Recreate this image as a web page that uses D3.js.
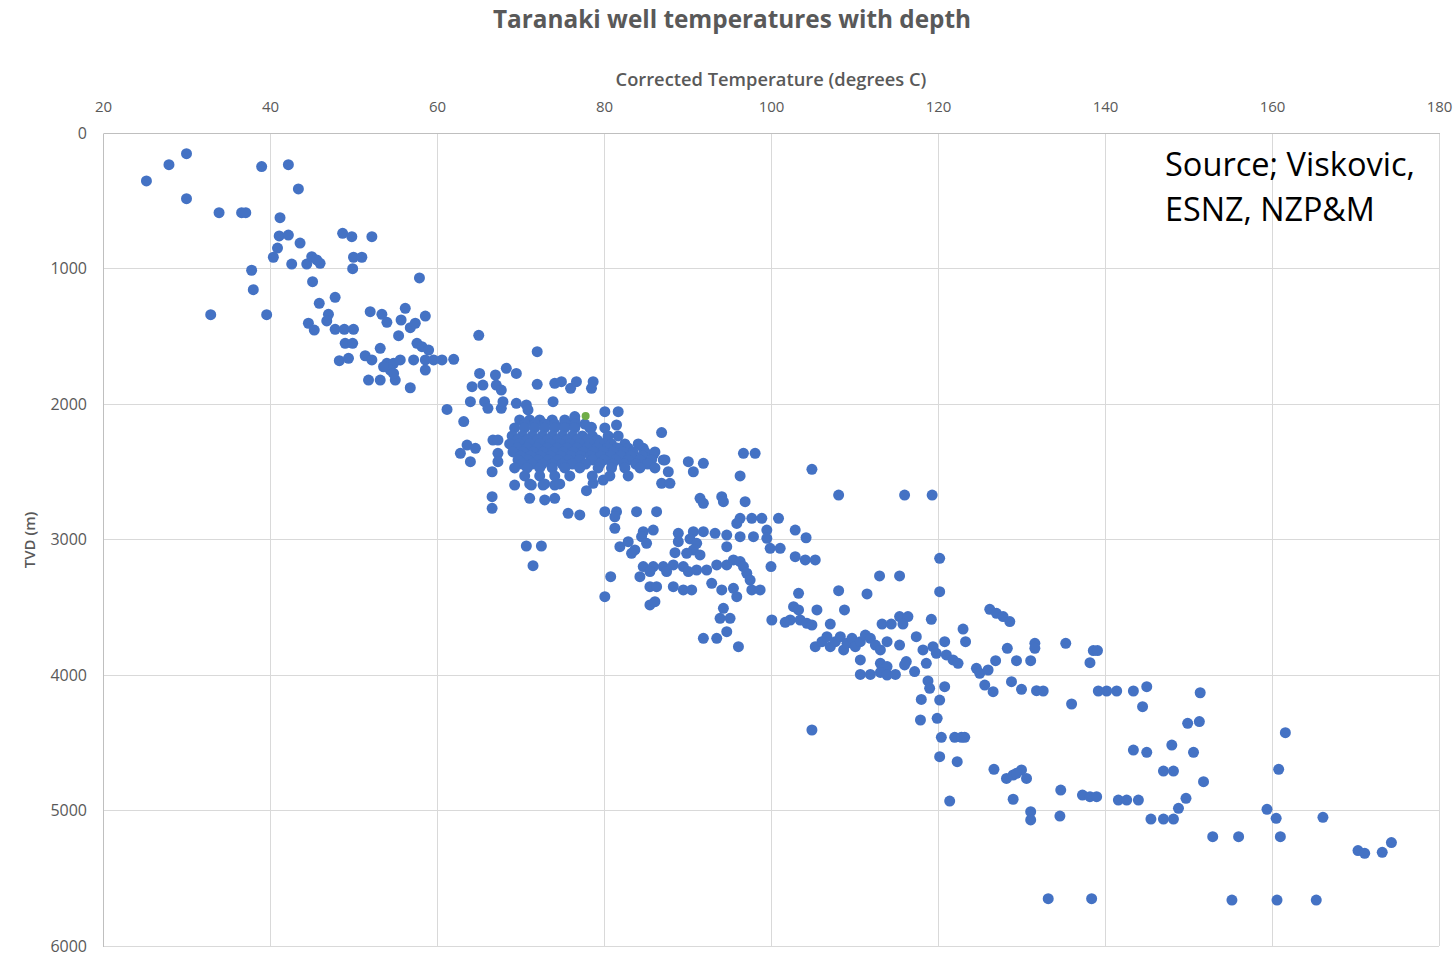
<!DOCTYPE html>
<html>
<head>
<meta charset="utf-8">
<script src="https://cdn.jsdelivr.net/npm/d3@7"></script>
<style>
  html, body { margin: 0; padding: 0; background: #fff; }
  svg { display: block; }
</style>
</head>
<body>
<svg id="chart" width="1455" height="954"></svg>
<script>
// ---- data ----
const chartTitle = "Taranaki well temperatures with depth";
const xAxisTitle = "Corrected Temperature (degrees C)";
const yAxisTitle = "TVD (m)";
const sourceLines = ["Source; Viskovic,", "ESNZ, NZP&M"];
const xTicks = [20, 40, 60, 80, 100, 120, 140, 160, 180];
const yTicks = [0, 1000, 2000, 3000, 4000, 5000, 6000];

// Corrected temperature (deg C) of each well reading
const temperature = [
  25.2,27.9,30.0,30.0,39.0,42.2,43.4,33.9,36.6,37.1,41.2,41.1,42.2,43.6,40.9,40.4,42.6,44.4,45.0,46.0,
  45.6,48.7,49.8,52.2,50.0,51.0,49.9,37.8,38.0,32.9,39.6,45.1,57.9,47.8,45.9,47.0,46.8,44.6,45.3,47.8,
  48.9,50.0,49.0,49.9,48.3,49.4,52.0,53.4,54.0,56.2,55.7,58.6,56.8,57.4,55.4,53.2,51.4,52.2,51.8,53.2,
  55.0,56.8,54.0,54.8,55.6,54.4,57.6,58.2,59.0,57.2,58.6,59.6,60.6,62.0,58.6,53.6,54.8,61.2,
  65.0,72.0,65.1,67.0,68.3,69.5,64.2,65.5,67.1,67.7,72.0,74.1,74.9,76.0,76.7,78.5,78.7,64.0,65.7,66.1,
  67.7,67.9,69.5,70.7,70.9,73.9,63.2,80.1,81.7,81.5,76.5,78.5,86.9,63.6,64.6,62.8,64.0,66.7,67.3,67.3,
  67.3,66.6,69.3,71.1,72.9,74.1,66.6,66.6,71.3,72.7,74.1,77.9,78.7,79.9,86.9,87.9,84.7,85.9,84.7,87.1,
  87.7,75.7,77.1,80.1,81.5,83.9,86.3,
  96.7,98.1,90.1,91.9,90.7,96.3,104.9,91.5,91.9,94.1,94.3,96.9,81.3,100.9,96.3,97.7,98.9,95.9,102.9,104.2,
  81.3,84.7,85.9,84.5,85.1,81.9,82.9,83.7,83.3,88.9,88.9,88.5,90.7,91.9,93.3,94.7,96.3,97.9,99.5,99.5,
  90.3,91.1,90.7,91.5,89.9,94.7,99.9,101.1,102.9,104.1,105.3,100.0,84.7,85.9,84.3,85.5,87.1,87.5,88.3,89.5,
  90.1,91.1,92.3,93.5,94.7,95.5,96.3,96.7,97.1,97.5,80.8,85.5,86.3,88.3,89.5,90.5,92.9,94.1,95.5,95.9,
  97.7,98.7,80.1,85.5,86.1,103.3,94.3,93.9,95.1,102.7,103.3,100.1,102.3,103.5,104.3,105.5,91.9,93.5,94.7,96.1,
  108.1,116.0,119.3,120.2,113.0,115.4,108.1,111.5,120.2,108.8,101.7,104.9,107.1,113.3,114.4,115.4,116.4,115.8,119.2,123.0,
  123.3,126.2,127.0,127.8,128.6,117.4,131.6,131.6,128.3,129.4,131.1,126.9,124.6,125.0,126.0,128.8,125.6,126.6,130.0,131.8,
  105.3,106.1,106.7,107.1,107.7,108.3,108.7,109.1,109.7,110.1,110.7,111.3,111.9,112.5,113.1,113.9,110.7,113.1,113.9,115.4,
  116.2,117.2,118.2,118.6,119.4,119.8,120.8,121.0,121.8,122.4,110.7,111.9,113.1,113.9,114.9,118.8,119.0,120.8,118.0,120.2,
  116.0,135.3,138.2,138.6,139.1,132.6,136.0,139.2,140.2,141.4,143.4,145.0,144.5,151.4,117.9,119.9,120.4,122.0,122.8,123.2,
  120.2,122.3,126.7,128.2,129.0,130.0,130.6,129.4,121.4,129.0,131.1,131.1,134.6,134.7,137.3,138.2,139.0,141.6,142.6,144.0,
  145.5,147.0,148.2,148.8,149.7,143.4,145.0,148.0,147.0,148.2,149.9,151.3,150.6,151.8,
  104.9,133.2,138.4,
  161.6,160.8,159.4,160.5,166.1,152.9,156.0,161.0,170.3,171.1,173.2,174.3,155.2,160.6,165.3,
  70.7,72.5,71.5,
  // dense cluster around 70-88 C, 2100-2600 m
  69.9,71.1,72.3,73.8,75.3,76.5,
  70.5,71.7,72.9,74.1,75.3,76.5,77.7,
  69.3,70.5,71.7,72.9,74.1,75.3,76.5,78.3,80.1,
  69.0,70.2,71.4,72.6,73.8,75.0,76.2,77.4,78.6,80.5,81.7,
  69.6,70.8,72.0,73.2,74.4,75.6,76.8,78.0,79.2,80.4,
  68.7,69.9,71.1,72.3,73.5,74.7,75.9,77.1,78.3,79.5,80.9,82.5,84.1,
  69.6,70.8,72.0,73.2,74.4,75.6,76.8,78.0,79.2,80.4,81.6,82.9,
  69.1,70.3,71.5,72.7,73.9,75.1,76.3,77.5,78.7,79.9,81.1,82.3,83.5,84.9,86.1,
  70.0,71.2,72.4,73.6,74.8,76.0,77.2,78.4,79.6,80.8,82.0,83.2,84.6,
  69.7,70.9,72.1,73.3,74.5,75.7,77.1,78.6,80.0,81.4,82.9,84.3,85.7,87.3,
  70.2,71.4,72.6,73.8,75.0,76.2,77.8,79.5,81.0,82.4,83.8,85.2,
  69.3,70.8,72.3,73.8,75.3,77.1,79.3,80.9,82.5,84.3,86.1,
  70.5,72.3,74.1,75.9,78.6,80.7,82.9,
  71.1,72.9,74.7
];

// True vertical depth (m) of each reading, same order as temperature
const depth = [
  354,234,153,485,248,234,413,588,588,588,625,760,753,812,849,917,967,967,913,962,
  937,740,765,765,917,917,1001,1013,1156,1341,1341,1097,1070,1213,1257,1338,1387,1404,1454,1449,
  1449,1449,1552,1552,1680,1663,1319,1338,1397,1294,1380,1351,1437,1404,1496,1589,1644,1675,1823,1823,
  1823,1880,1700,1700,1675,1749,1552,1577,1602,1675,1675,1675,1675,1670,1749,1725,1774,2040,
  1493,1614,1774,1786,1737,1774,1872,1860,1860,1897,1855,1847,1835,1884,1835,1884,1835,1983,1983,2032,
  2032,1983,1995,2007,2044,1983,2130,2057,2057,2155,2093,2172,2211,2303,2327,2364,2426,2266,2266,2364,
  2426,2500,2598,2696,2708,2696,2684,2770,2598,2598,2598,2640,2585,2561,2585,2585,2327,2376,2413,2413,
  2500,2807,2819,2795,2795,2795,2795,
  2364,2364,2426,2438,2500,2531,2482,2696,2733,2684,2721,2721,2832,2844,2844,2844,2844,2881,2930,2987,
  2917,2942,2930,2979,3028,3053,3016,3077,3102,2954,3016,3097,2942,2942,2954,2967,2979,2979,2930,2991,
  2996,3028,3077,3114,3102,3053,3065,3065,3127,3151,3151,3200,3200,3200,3274,3237,3200,3237,3188,3200,
  3237,3225,3225,3188,3188,3151,3163,3200,3249,3299,3274,3348,3348,3348,3372,3372,3323,3372,3360,3422,
  3372,3372,3422,3483,3459,3397,3508,3582,3582,3496,3520,3594,3594,3594,3619,3520,3729,3729,3680,3791,
  2672,2672,2672,3139,3269,3269,3378,3402,3385,3520,3611,3631,3624,3624,3624,3569,3569,3624,3589,3661,
  3754,3515,3545,3569,3606,3717,3766,3803,3803,3894,3894,3894,3951,3988,3963,4049,4074,4123,4106,4116,
  3791,3754,3717,3791,3754,3717,3815,3766,3729,3791,3754,3705,3729,3779,3815,3754,3889,3914,3938,3779,
  3901,3975,3815,3914,3791,3840,3754,3852,3889,3914,3996,3996,3981,4000,3996,4044,4098,4086,4180,4185,
  3926,3766,3909,3820,3820,4118,4214,4118,4118,4118,4118,4086,4234,4131,4332,4320,4460,4460,4460,4460,
  4603,4640,4696,4763,4738,4701,4763,4726,4930,4917,5009,5070,5041,4849,4886,4898,4898,4923,4923,4923,
  5063,5063,5063,4984,4910,4554,4571,4517,4709,4709,4357,4344,4571,4787,
  4406,5651,5651,
  4426,4696,4991,5058,5050,5193,5193,5193,5296,5316,5309,5237,5661,5661,5661,
  3048,3048,3193,
  2118,2118,2118,2118,2118,2118,
  2148,2148,2148,2148,2148,2148,2148,
  2177,2177,2177,2177,2177,2177,2177,2177,2177,
  2236,2236,2236,2236,2236,2236,2236,2236,2236,2236,2236,
  2266,2266,2266,2266,2266,2266,2266,2266,2266,2266,
  2295,2295,2295,2295,2295,2295,2295,2295,2295,2295,2295,2295,2295,
  2325,2325,2325,2325,2325,2325,2325,2325,2325,2325,2325,2325,
  2354,2354,2354,2354,2354,2354,2354,2354,2354,2354,2354,2354,2354,2354,2354,
  2384,2384,2384,2384,2384,2384,2384,2384,2384,2384,2384,2384,2384,
  2413,2413,2413,2413,2413,2413,2413,2413,2413,2413,2413,2413,2413,2413,
  2443,2443,2443,2443,2443,2443,2443,2443,2443,2443,2443,2443,
  2472,2472,2472,2472,2472,2472,2472,2472,2472,2472,2472,
  2531,2531,2531,2531,2531,2531,2531,
  2590,2590,2590
];

// single highlighted (green) reading
const highlightTemperature = [77.8];
const highlightDepth = [2089];

// ---- drawing ----
const svg = d3.select("#chart");
const plot = { left: 103, top: 133, right: 1439, bottom: 946 };

const x = d3.scaleLinear().domain([20, 180]).range([plot.left, plot.right]);
const y = d3.scaleLinear().domain([0, 6000]).range([plot.top, plot.bottom]);

const textGray = "#595959";
const gridGray = "#d9d9d9";
const fontFam = "'Open Sans', 'Liberation Sans', sans-serif";

// gridlines
svg.append("g")
  .selectAll("line")
  .data(xTicks)
  .join("line")
  .attr("x1", d => x(d)).attr("x2", d => x(d))
  .attr("y1", plot.top).attr("y2", plot.bottom)
  .attr("stroke", gridGray).attr("stroke-width", 1)
  .attr("shape-rendering", "crispEdges");

svg.append("g")
  .selectAll("line")
  .data(yTicks)
  .join("line")
  .attr("x1", plot.left).attr("x2", plot.right)
  .attr("y1", d => y(d)).attr("y2", d => y(d))
  .attr("stroke", gridGray).attr("stroke-width", 1)
  .attr("shape-rendering", "crispEdges");

// axes (top x axis, left y axis)
const xAxis = d3.axisTop(x).tickValues(xTicks).tickFormat(d3.format("d")).tickSize(0).tickPadding(21);
const gx = svg.append("g").attr("transform", `translate(0,${plot.top})`).call(xAxis);
gx.select(".domain").attr("stroke", "#bfbfbf").attr("shape-rendering", "crispEdges");
gx.selectAll("text").attr("fill", textGray).style("font-family", fontFam).style("font-size", "15px");

const yAxis = d3.axisLeft(y).tickValues(yTicks).tickFormat(d3.format("d")).tickSize(0).tickPadding(16);
const gy = svg.append("g").attr("transform", `translate(${plot.left},0)`).call(yAxis);
gy.select(".domain").attr("stroke", "#bfbfbf").attr("shape-rendering", "crispEdges");
gy.selectAll("text").attr("fill", textGray).style("font-family", fontFam).style("font-size", "16px");

// points
const pts = temperature.map((t, i) => ({ t, d: depth[i] }));
svg.append("g")
  .selectAll("circle")
  .data(pts)
  .join("circle")
  .attr("cx", p => x(p.t))
  .attr("cy", p => y(p.d))
  .attr("r", 5.5)
  .attr("fill", "#4472C4");

const hl = highlightTemperature.map((t, i) => ({ t, d: highlightDepth[i] }));
svg.append("g")
  .selectAll("circle")
  .data(hl)
  .join("circle")
  .attr("cx", p => x(p.t))
  .attr("cy", p => y(p.d))
  .attr("r", 4)
  .attr("fill", "#70AD47");

// fit helper
function fitWidth(sel, target) {
  const w = sel.node().getComputedTextLength();
  const fs = parseFloat(sel.style("font-size"));
  sel.style("font-size", (fs * target / w).toFixed(2) + "px");
}

// title
const title = svg.append("text")
  .attr("x", 732).attr("y", 28)
  .attr("text-anchor", "middle")
  .attr("fill", textGray)
  .style("font-family", fontFam).style("font-weight", "700").style("font-size", "22px")
  .text(chartTitle);
fitWidth(title, 478);

// x axis title
const xt = svg.append("text")
  .attr("x", 771).attr("y", 86)
  .attr("text-anchor", "middle")
  .attr("fill", textGray)
  .style("font-family", fontFam).style("font-weight", "600").style("font-size", "16px")
  .text(xAxisTitle);
fitWidth(xt, 311);

// y axis title
svg.append("text")
  .attr("transform", "translate(35,540) rotate(-90)")
  .attr("text-anchor", "middle")
  .attr("fill", textGray)
  .style("font-family", fontFam).style("font-weight", "600").style("font-size", "15px")
  .text(yAxisTitle);

// source note
const src = svg.append("g");
sourceLines.forEach((line, i) => {
  const t = src.append("text")
    .attr("x", 1165).attr("y", 176 + i * 45)
    .attr("fill", "#000")
    .style("font-family", fontFam).style("font-size", "28px")
    .text(line);
  fitWidth(t, i === 0 ? 250 : 210);
});
</script>
</body>
</html>
